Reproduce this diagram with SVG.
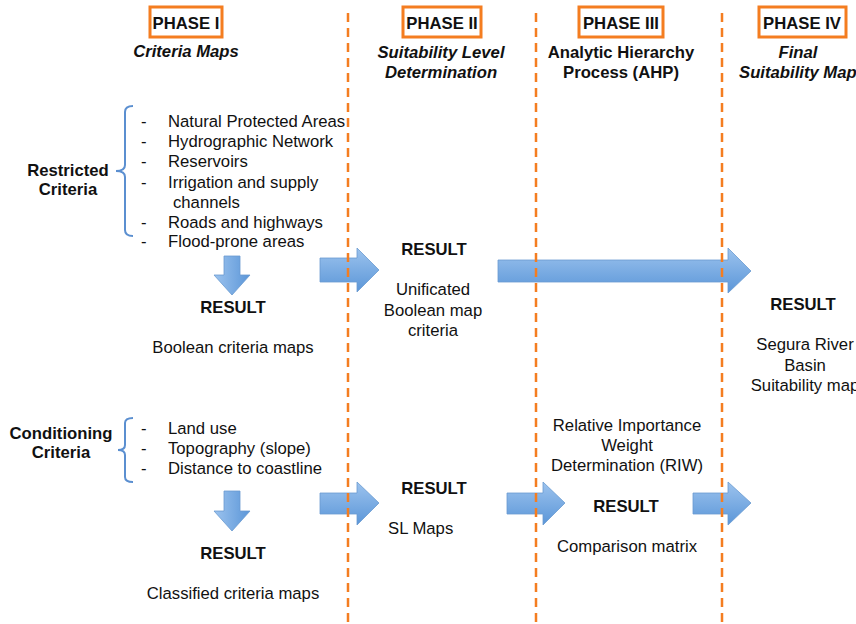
<svg xmlns="http://www.w3.org/2000/svg" width="856" height="624" viewBox="0 0 856 624">
<defs>
<linearGradient id="g" x1="0" y1="0" x2="0" y2="1">
<stop offset="0" stop-color="#9cc3ee"/>
<stop offset="1" stop-color="#5b96d8"/>
</linearGradient>
<linearGradient id="gh" x1="0" y1="0" x2="1" y2="0">
<stop offset="0" stop-color="#9cc3ee"/>
<stop offset="1" stop-color="#5b96d8"/>
</linearGradient>
<style>
text{font-family:"Liberation Sans",Arial,sans-serif;font-size:16.7px;fill:#111}
.b{font-weight:bold}
.bi{font-weight:bold;font-style:italic}
.m{text-anchor:middle}
.box{fill:#fff;stroke:#f47d20;stroke-width:3}
.dash{stroke:#f47d20;stroke-width:2.5;stroke-dasharray:9 6;fill:none}
.arr{fill:url(#g);stroke:#6a9bd0;stroke-width:0.8}
.arrd{fill:url(#gh);stroke:#6a9bd0;stroke-width:0.8}
.br{fill:none;stroke:#5b8fd0;stroke-width:2}
</style>
</defs>
<rect width="856" height="624" fill="#fff"/>

<g id="phase1">
<rect class="box" x="150" y="7" width="72" height="30"/>
<text class="b m" x="186" y="29">PHASE I</text>
<text class="bi m" x="186" y="57">Criteria Maps</text>
</g>
<g id="phase2">
<rect class="box" x="403" y="7" width="78" height="30"/>
<text class="b m" x="442" y="29">PHASE II</text>
<text class="bi m" x="441" y="58">Suitability Level</text>
<text class="bi m" x="441" y="78">Determination</text>
</g>
<g id="phase3">
<rect class="box" x="579" y="7" width="84" height="30"/>
<text class="b m" x="621" y="29">PHASE III</text>
<text class="b m" x="621" y="58">Analytic Hierarchy</text>
<text class="b m" x="621" y="78">Process (AHP)</text>
</g>
<g id="phase4">
<rect class="box" x="759" y="7" width="87" height="30"/>
<text class="b m" x="802" y="29">PHASE IV</text>
<text class="bi m" x="798" y="58">Final</text>
<text class="bi" x="739" y="78">Suitability Map</text>
</g>

<g id="restricted">
<text class="b m" x="68" y="176">Restricted</text>
<text class="b m" x="68" y="195">Criteria</text>
<path class="br" d="M133,106 Q125,106 125,112 L125,165 Q125,171 116,171 Q125,171 125,177 L125,230 Q125,236 133,236"/>
<text x="141" y="127">-</text><text x="168" y="127">Natural Protected Areas</text>
<text x="141" y="147">-</text><text x="168" y="147">Hydrographic Network</text>
<text x="141" y="167">-</text><text x="168" y="167">Reservoirs</text>
<text x="141" y="188">-</text><text x="168" y="188">Irrigation and supply</text>
<text x="173" y="208">channels</text>
<text x="141" y="228">-</text><text x="168" y="228">Roads and highways</text>
<text x="141" y="247">-</text><text x="168" y="247">Flood-prone areas</text>
</g>

<g id="conditioning">
<text class="b m" x="61" y="439">Conditioning</text>
<text class="b m" x="61" y="458">Criteria</text>
<path class="br" d="M133,418 Q125,418 125,423 L125,445 Q125,450 118,450 Q125,450 125,455 L125,477 Q125,482 133,482"/>
<text x="141" y="434">-</text><text x="168" y="434">Land use</text>
<text x="141" y="454">-</text><text x="168" y="454">Topography (slope)</text>
<text x="141" y="474">-</text><text x="168" y="474">Distance to coastline</text>
</g>

<g id="result1">
<text class="b m" x="233" y="313">RESULT</text>
<text class="m" x="233" y="353">Boolean criteria maps</text>
</g>
<g id="result2">
<text class="b m" x="233" y="559">RESULT</text>
<text class="m" x="233" y="599">Classified criteria maps</text>
</g>
<g id="result3">
<text class="b m" x="434" y="255">RESULT</text>
<text class="m" x="433" y="295">Unificated</text>
<text class="m" x="433" y="316">Boolean map</text>
<text class="m" x="433" y="336">criteria</text>
</g>
<g id="result4">
<text class="b m" x="434" y="494">RESULT</text>
<text x="388" y="534">SL Maps</text>
</g>
<g id="riw">
<text class="m" x="627" y="431">Relative Importance</text>
<text class="m" x="627" y="451">Weight</text>
<text class="m" x="627" y="471">Determination (RIW)</text>
</g>
<g id="result5">
<text class="b m" x="626" y="512">RESULT</text>
<text class="m" x="627" y="552">Comparison matrix</text>
</g>
<g id="result6">
<text class="b m" x="803" y="310">RESULT</text>
<text class="m" x="805" y="350">Segura River</text>
<text class="m" x="805" y="371">Basin</text>
<text class="m" x="805" y="391">Suitability map</text>
</g>

<g id="connectors">
<path class="arrd" d="M224,256 L240,256 L240,275 L250,275 L232,295 L214,275 L224,275 Z"/>
<path class="arrd" d="M224,491 L240,491 L240,511 L250,511 L232,531 L214,511 L224,511 Z"/>
<path class="arr" d="M320,258 L357,258 L357,248 L379,270 L357,292 L357,282 L320,282 Z"/>
<path class="arr" d="M498,260 L728,260 L728,248 L751,271 L728,293 L728,282 L498,282 Z"/>
<path class="arr" d="M320,493 L357,493 L357,482 L379,503 L357,525 L357,514 L320,514 Z"/>
<path class="arr" d="M507,493 L543,493 L543,482 L565,503 L543,525 L543,514 L507,514 Z"/>
<path class="arr" d="M693,493 L728,493 L728,482 L751,503 L728,525 L728,514 L693,514 Z"/>
<line class="dash" x1="348" y1="13" x2="348" y2="624"/>
<line class="dash" x1="536" y1="13" x2="536" y2="624"/>
<line class="dash" x1="722" y1="13" x2="722" y2="624"/>
</g>
</svg>
